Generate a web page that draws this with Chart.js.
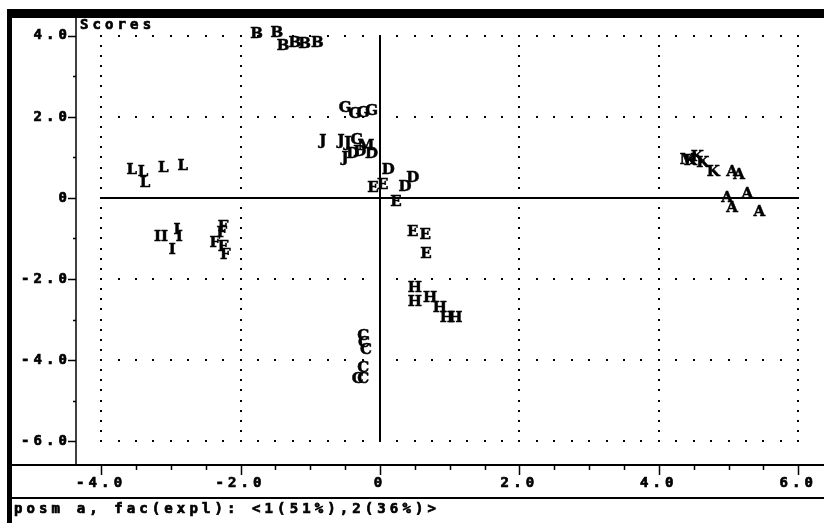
<!DOCTYPE html>
<html>
<head>
<meta charset="utf-8">
<script src="https://cdn.jsdelivr.net/npm/chart.js@4/dist/chart.umd.min.js"></script>
<style>
  html, body { margin: 0; padding: 0; background: #fff; }
  #wrap { width: 824px; height: 523px; position: relative; }
  #scores { display: block; }
</style>
</head>
<body>
<div id="wrap"><canvas id="scores" width="824" height="523"></canvas></div>
<script>
// Group labels (one dataset per group)
const groupLabels = ['A', 'B', 'C', 'D', 'E', 'F', 'G', 'H', 'I', 'J', 'K', 'L', 'M'];

// Factor 1 / factor 2 scores per group
const fac1_A = [5.05, 5.15, 4.98, 5.05, 5.27, 5.44];
const fac2_A = [0.64, 0.57, 0.00, -0.25, 0.10, -0.35];
const fac1_B = [-1.77, -1.48, -1.39, -1.22, -1.08, -0.90];
const fac2_B = [4.05, 4.07, 3.75, 3.82, 3.80, 3.82];
const fac1_C = [-0.24, -0.23, -0.20, -0.24, -0.32, -0.24];
const fac2_C = [-3.41, -3.58, -3.75, -4.19, -4.47, -4.47];
const fac1_D = [0.12, 0.36, 0.47, -0.39, -0.29, -0.12];
const fac2_D = [0.69, 0.27, 0.49, 1.09, 1.14, 1.09];
const fac1_E = [-0.10, 0.04, 0.23, 0.47, 0.65, 0.66];
const fac2_E = [0.25, 0.32, -0.10, -0.84, -0.91, -1.38];
const fac1_F = [-2.25, -2.27, -2.37, -2.25, -2.22];
const fac2_F = [-0.72, -0.86, -1.11, -1.21, -1.41];
const fac1_G = [-0.50, -0.36, -0.24, -0.12, -0.33];
const fac2_G = [2.22, 2.07, 2.10, 2.15, 1.43];
const fac1_H = [0.50, 0.50, 0.72, 0.86, 0.96, 1.08];
const fac2_H = [-2.22, -2.57, -2.47, -2.71, -2.96, -2.96];
const fac1_I = [-3.19, -3.09, -2.91, -2.88, -2.98];
const fac2_I = [-0.96, -0.96, -0.79, -0.96, -1.28];
const fac1_J = [-0.82, -0.56, -0.46, -0.50];
const fac2_J = [1.41, 1.41, 1.36, 0.99];
const fac1_K = [4.45, 4.55, 4.63, 4.78];
const fac2_K = [0.91, 1.01, 0.86, 0.64];
const fac1_L = [-3.56, -3.40, -3.37, -3.11, -2.83];
const fac2_L = [0.69, 0.64, 0.37, 0.74, 0.79];
const fac1_M = [-0.20, 4.42];
const fac2_M = [1.28, 0.93];

// Axis ticks
const xTickValues = [-4, -2, 0, 2, 4, 6];
const yTickValues = [-6, -4, -2, 0, 2, 4];
const xTickLabels = ['-4.0', '-2.0', '0', '2.0', '4.0', '6.0'];
const yTickLabels = ['-6.0', '-4.0', '-2.0', '0', '2.0', '4.0'];

const axisTitle = 'Scores';
const footerText = 'posm a, fac(expl): <1(51%),2(36%)>';

const seriesX = { A: fac1_A, B: fac1_B, C: fac1_C, D: fac1_D, E: fac1_E, F: fac1_F, G: fac1_G,
                  H: fac1_H, I: fac1_I, J: fac1_J, K: fac1_K, L: fac1_L, M: fac1_M };
const seriesY = { A: fac2_A, B: fac2_B, C: fac2_C, D: fac2_D, E: fac2_E, F: fac2_F, G: fac2_G,
                  H: fac2_H, I: fac2_I, J: fac2_J, K: fac2_K, L: fac2_L, M: fac2_M };

const DOS_FAMILY = '"DejaVu Sans Mono", "Liberation Mono", monospace';
const DOS_SIZE = 14;
const DOS_SPACING = '4.1px';
const INK = '#000';

const datasets = groupLabels.map(g => ({
  label: g,
  data: seriesX[g].map((x, i) => ({ x, y: seriesY[g][i] })),
  pointRadius: 0,
  pointHoverRadius: 0,
  showLine: false
}));

function dot(ctx, x, y) { ctx.fillRect(Math.round(x) - 1, Math.round(y) - 1, 2, 2); }

function heavyText(ctx, text, x, y) {
  ctx.fillText(text, x, y);
  ctx.strokeText(text, x, y);
}

const plotDecor = {
  id: 'plotDecor',
  beforeDraw(chart) {
    const ctx = chart.ctx;
    ctx.save();
    ctx.fillStyle = '#fff';
    ctx.fillRect(0, 0, chart.width, chart.height);
    ctx.restore();
    // wide character cells for the axis text
    ctx.letterSpacing = DOS_SPACING;
  },
  beforeDatasetsDraw(chart) {
    const ctx = chart.ctx, xs = chart.scales.x, ys = chart.scales.y;
    const xLo = xTickValues[0], xHi = xTickValues[xTickValues.length - 1];
    const yLo = yTickValues[0], yHi = yTickValues[yTickValues.length - 1];
    ctx.save();
    ctx.fillStyle = INK;
    // dotted reference lines at the labelled values
    yTickValues.forEach(v => {
      if (v === 0) return;
      const py = ys.getPixelForValue(v);
      for (let u = xLo; u <= xHi + 1e-9; u += 0.25) dot(ctx, xs.getPixelForValue(u), py);
    });
    xTickValues.forEach(u => {
      if (u === 0) return;
      const px = xs.getPixelForValue(u);
      for (let v = yLo; v <= yHi + 1e-9; v += 0.25) dot(ctx, px, ys.getPixelForValue(v));
    });
    // solid zero axes
    ctx.strokeStyle = INK;
    ctx.lineWidth = 2;
    ctx.beginPath();
    const x0 = Math.round(xs.getPixelForValue(0));
    ctx.moveTo(x0, ys.getPixelForValue(yHi));
    ctx.lineTo(x0, ys.getPixelForValue(yLo));
    const y0 = Math.round(ys.getPixelForValue(0));
    ctx.moveTo(xs.getPixelForValue(xLo), y0);
    ctx.lineTo(xs.getPixelForValue(xHi), y0);
    ctx.stroke();
    ctx.restore();
  },
  afterDatasetsDraw(chart) {
    const ctx = chart.ctx;
    ctx.save();
    ctx.letterSpacing = '0px';
    ctx.fillStyle = INK;
    ctx.strokeStyle = INK;
    ctx.lineWidth = 0.5;
    ctx.font = 'bold 15px "DejaVu Serif", "Liberation Serif", serif';
    ctx.textAlign = 'center';
    ctx.textBaseline = 'middle';
    chart.data.datasets.forEach((ds, di) => {
      const meta = chart.getDatasetMeta(di);
      meta.data.forEach(el => heavyText(ctx, ds.label, el.x, el.y));
    });
    ctx.restore();
  },
  afterDraw(chart) {
    const ctx = chart.ctx, xs = chart.scales.x, ys = chart.scales.y, ca = chart.chartArea;
    ctx.save();
    ctx.fillStyle = INK;
    ctx.strokeStyle = INK;
    // heavy frame: top bar and left edge
    ctx.fillRect(7, 9, chart.width - 7, 9);
    ctx.fillRect(7, 9, 5, chart.height - 9);
    // plot boundaries
    ctx.lineWidth = 1.5;
    ctx.beginPath();
    ctx.moveTo(ca.left, ca.top);
    ctx.lineTo(ca.left, ca.bottom);
    ctx.stroke();
    ctx.lineWidth = 2;
    ctx.beginPath();
    ctx.moveTo(12, ca.bottom);
    ctx.lineTo(chart.width, ca.bottom);
    ctx.moveTo(12, 498);
    ctx.lineTo(chart.width, 498);
    ctx.stroke();
    // tick marks on the x axis every half unit
    ctx.lineWidth = 1.5;
    ctx.beginPath();
    for (let u = xTickValues[0]; u <= xTickValues[xTickValues.length - 1] + 1e-9; u += 0.5) {
      const px = Math.round(xs.getPixelForValue(u)) + 0.5;
      const major = xTickValues.some(t => Math.abs(t - u) < 1e-9);
      ctx.moveTo(px, ca.bottom);
      ctx.lineTo(px, ca.bottom + (major ? 10 : 5));
    }
    // tick marks on the y axis every unit
    for (let v = yTickValues[0]; v <= yTickValues[yTickValues.length - 1] + 1e-9; v += 1) {
      const py = Math.round(ys.getPixelForValue(v)) + 0.5;
      const major = yTickValues.some(t => Math.abs(t - v) < 1e-9);
      ctx.moveTo(ca.left - (major ? 8 : 3), py);
      ctx.lineTo(ca.left, py);
    }
    ctx.stroke();
    // captions
    ctx.letterSpacing = DOS_SPACING;
    ctx.font = 'bold ' + DOS_SIZE + 'px ' + DOS_FAMILY;
    ctx.textAlign = 'left';
    ctx.textBaseline = 'middle';
    ctx.lineWidth = 0.7;
    heavyText(ctx, axisTitle, ca.left + 4, 25);
    heavyText(ctx, footerText, 14, 509);
    ctx.restore();
    ctx.letterSpacing = '0px';
  }
};

const dosTicks = {
  color: INK,
  textStrokeColor: INK,
  textStrokeWidth: 0.7,
  font: { family: DOS_FAMILY, size: DOS_SIZE, weight: 'bold' },
  autoSkip: false
};

new Chart(document.getElementById('scores'), {
  type: 'scatter',
  data: { datasets },
  plugins: [plotDecor],
  options: {
    responsive: false,
    maintainAspectRatio: false,
    devicePixelRatio: 1,
    animation: false,
    events: [],
    layout: { padding: { left: 10, right: 2, top: 18, bottom: 33 } },
    plugins: { legend: { display: false }, tooltip: { enabled: false }, title: { display: false } },
    scales: {
      x: {
        type: 'linear',
        min: -4.36, max: 6.34,
        afterFit(scale) { scale.height = 25; },
        afterBuildTicks(scale) { scale.ticks = xTickValues.map(value => ({ value })); },
        grid: { display: false, drawTicks: false },
        border: { display: false },
        ticks: Object.assign({}, dosTicks, {
          padding: 10,
          maxRotation: 0,
          callback: (value) => xTickLabels[xTickValues.indexOf(value)]
        })
      },
      y: {
        type: 'linear',
        min: -6.59, max: 4.44,
        afterFit(scale) { scale.width = 66; },
        afterBuildTicks(scale) { scale.ticks = yTickValues.map(value => ({ value })); },
        grid: { display: false, drawTicks: false },
        border: { display: false },
        ticks: Object.assign({}, dosTicks, {
          padding: 5,
          callback: (value) => yTickLabels[yTickValues.indexOf(value)]
        })
      }
    }
  }
});
</script>
</body>
</html>
